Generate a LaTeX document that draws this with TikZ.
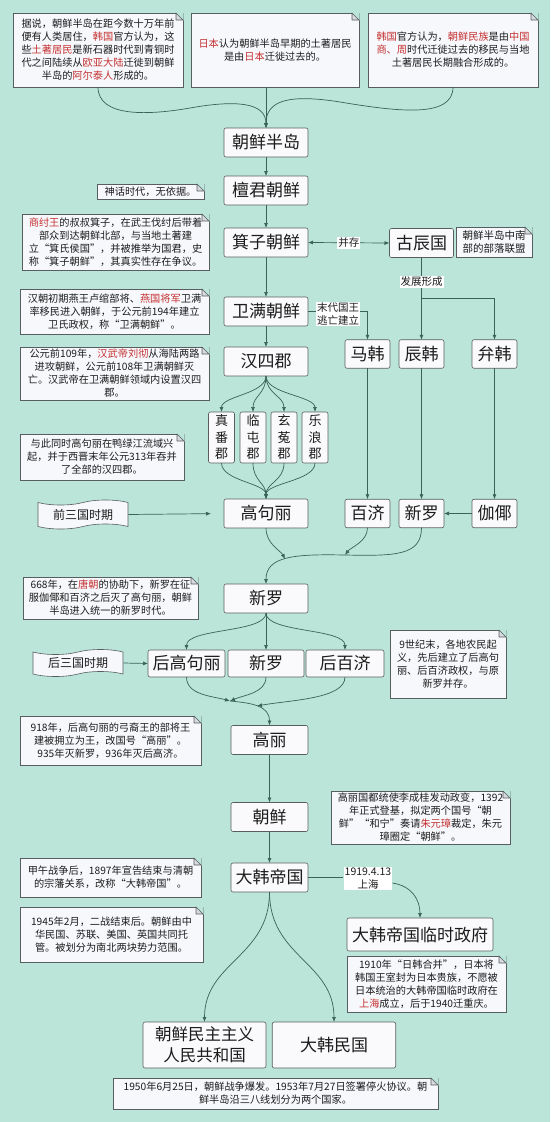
\documentclass[tikz,border=0pt]{standalone}
\usepackage{fontspec}
\setmainfont{Noto Sans CJK SC}
\usetikzlibrary{arrows.meta,shapes.symbols}
\definecolor{bgc}{RGB}{187,229,217}
\definecolor{boxc}{RGB}{250,250,252}
\definecolor{notec}{RGB}{247,248,252}
\definecolor{bordc}{RGB}{88,94,96}
\definecolor{linec}{RGB}{58,98,86}
\definecolor{redc}{RGB}{196,48,48}
\definecolor{txtc}{RGB}{28,28,28}
\definecolor{foldc}{RGB}{214,217,222}
\newcommand\rd[1]{\textcolor{redc}{#1}}
\newcommand\dogear[1]{%
  \fill[bgc] ([xshift=-7.6pt,yshift=0.7pt]#1.north east) -- ([xshift=0.7pt,yshift=0.7pt]#1.north east) -- ([xshift=0.7pt,yshift=-7.6pt]#1.north east) -- cycle;
  \filldraw[fill=foldc, draw=bordc, line width=0.6pt, line join=round] ([xshift=-7pt]#1.north east) -- ([xshift=-7pt,yshift=-7pt]#1.north east) -- ([yshift=-7pt]#1.north east) -- cycle;}
\begin{document}
\begin{tikzpicture}[x=1pt,y=-1pt,
  mbox/.style={draw=bordc, fill=boxc, rounded corners=2pt, line width=0.6pt, inner sep=0pt, outer sep=0pt, text=txtc, font=\fontsize{17}{20}\selectfont, minimum height=29pt},
  sbox/.style={mbox, minimum width=45pt, minimum height=28.5pt},
  jun/.style={mbox, minimum width=26pt, minimum height=51pt, align=center, font=\fontsize{13}{16.5}\selectfont},
  note/.style={draw=bordc, fill=notec, line width=0.6pt, inner sep=0pt, outer sep=0pt, align=center, text=txtc, font=\fontsize{10.2}{13}\selectfont},
  flagbox/.style={tape, draw=bordc, fill=notec, line width=0.6pt, minimum width=90pt, minimum height=29pt, inner sep=0pt, tape bend height=5pt, font=\fontsize{12}{14}\selectfont, text=txtc},
  lbl/.style={fill=white, inner sep=1pt, font=\fontsize{10.5}{13}\selectfont, align=center, text=txtc},
  conn/.style={draw=linec, line width=0.7pt},
  arr/.style={conn, -{Latex[length=5pt,width=4pt]}}]
\path[use as bounding box] (0,0) rectangle (550,1122);
\fill[bgc] (0,0) rectangle (550,1122);

% top notes
\node[note, minimum width=170pt, minimum height=74pt] (n1) at (98,50) {据说，朝鲜半岛在距今数十万年前\\便有人类居住，\rd{韩国}官方认为，这\\些\rd{土著居民}是新石器时代到青铜时\\代之间陆续从\rd{欧亚大陆}迁徙到朝鲜\\半岛的\rd{阿尔泰人}形成的。};
\node[note, minimum width=168pt, minimum height=74pt] (n2) at (275,50) {\rd{日本}认为朝鲜半岛早期的土著居民\\是由\rd{日本}迁徙过去的。};
\node[note, minimum width=170pt, minimum height=74pt] (n3) at (453,50) {\rd{韩国}官方认为，\rd{朝鲜民族}是由\rd{中国}\\\rd{商、周}时代迁徙过去的移民与当地\\土著居民长期融合形成的。};

% main column
\node[mbox, minimum width=84pt] (A) at (266,142.5) {朝鲜半岛};
\node[mbox, minimum width=84pt] (B) at (266,190.5) {檀君朝鲜};
\node[mbox, minimum width=84pt] (C) at (266,242.5) {箕子朝鲜};
\node[mbox, minimum width=64pt] (GC) at (421.5,243) {古辰国};
\node[note, minimum width=76pt, minimum height=30pt, font=\fontsize{10.5}{13}\selectfont] (nGC) at (494,242) {朝鲜半岛中南\\部的部落联盟};
\node[note, minimum width=107pt, minimum height=15pt] (nB) at (150.5,191.5) {神话时代，无依据。};
\node[note, minimum width=187pt, minimum height=56pt] (nC) at (115.5,242) {\rd{商纣王}的叔叔箕子，在武王伐纣后带着\\部众到达朝鲜北部，与当地土著建\\立“箕氏侯国”，并被推举为国君，史\\称“箕子朝鲜”，其真实性存在争议。};
\node[mbox, minimum width=84pt] (D) at (266,311.5) {卫满朝鲜};
\node[note, minimum width=189pt, minimum height=45pt] (nD) at (114.5,311.5) {汉朝初期燕王卢绾部将、\rd{燕国将军}卫满\\率移民进入朝鲜，于公元前194年建立\\卫氏政权，称“卫满朝鲜”。};
\node[mbox, minimum width=84pt] (E) at (266,361.5) {汉四郡};
\node[note, minimum width=189pt, minimum height=53pt] (nE) at (114.5,373.5) {公元前109年，\rd{汉武帝刘彻}从海陆两路\\进攻朝鲜，公元前108年卫满朝鲜灭\\亡。汉武帝在卫满朝鲜领域内设置汉四\\郡。};

\node[jun] (J1) at (221.5,437.5) {真\\番\\郡};
\node[jun] (J2) at (253,437.5) {临\\屯\\郡};
\node[jun] (J3) at (284,437.5) {玄\\菟\\郡};
\node[jun] (J4) at (315,437.5) {乐\\浪\\郡};

\node[note, minimum width=164pt, minimum height=46pt] (nF) at (102,457) {与此同时高句丽在鸭绿江流域兴\\起，并于西晋末年公元313年吞并\\了全部的汉四郡。};
\node[flagbox] (f1) at (83,514.5) {前三国时期};
\node[mbox, minimum width=84pt] (F) at (266,513.5) {高句丽};

\node[sbox] (MH) at (367.5,354) {马韩};
\node[sbox] (CH) at (421.5,354) {辰韩};
\node[sbox] (BH) at (494.5,354) {弁韩};
\node[sbox] (BJ) at (367.5,513.5) {百济};
\node[sbox] (XL) at (421.5,513.5) {新罗};
\node[sbox] (JY) at (494.5,513.5) {伽倻};

\node[note, minimum width=175pt, minimum height=42pt] (nG) at (110.5,598) {668年，在\rd{唐朝}的协助下，新罗在征\\服伽倻和百济之后灭了高句丽，朝鲜\\半岛进入统一的新罗时代。};
\node[mbox, minimum width=84pt] (G) at (266,598.5) {新罗};
\node[flagbox, minimum height=27pt] (f2) at (78,663) {后三国时期};
\node[mbox, minimum width=77pt, minimum height=27pt] (HG) at (186.5,663.5) {后高句丽};
\node[mbox, minimum width=76pt, minimum height=27pt] (XL2) at (266,663.5) {新罗};
\node[mbox, minimum width=78pt, minimum height=27pt] (HB) at (345,663.5) {后百济};
\node[note, minimum width=116pt, minimum height=68pt] (n9) at (448,664) {9世纪末，各地农民起\\义，先后建立了后高句\\丽、后百济政权，与原\\新罗并存。};

\node[note, minimum width=181pt, minimum height=49pt] (nH) at (110.5,740.5) {918年，后高句丽的弓裔王的部将王\\建被拥立为王，改国号“高丽”。\\935年灭新罗，936年灭后高济。};
\node[mbox, minimum width=77pt] (H) at (269.5,740) {高丽};
\node[mbox, minimum width=77pt] (I) at (269.5,817) {朝鲜};
\node[note, minimum width=179pt, minimum height=53pt] (nI) at (420.5,817.5) {高丽国都统使李成桂发动政变，1392\\年正式登基，拟定两个国号“朝\\鲜”“和宁”奏请\rd{朱元璋}裁定，朱元\\璋圈定“朝鲜”。};
\node[note, minimum width=181pt, minimum height=39pt] (nJ) at (110.5,877.5) {甲午战争后，1897年宣告结束与清朝\\的宗藩关系，改称“大韩帝国”。};
\node[mbox, minimum width=77pt] (J) at (269.5,877.5) {大韩帝国};
\node[mbox, minimum width=146pt, minimum height=33pt] (K) at (420,934.5) {大韩帝国临时政府};
\node[note, minimum width=159pt, minimum height=56pt] (nK) at (426.5,984) {1910年“日韩合并”，日本将\\韩国王室封为日本贵族，不愿被\\日本统治的大韩帝国临时政府在\\\rd{上海}成立，后于1940迁重庆。};
\node[note, minimum width=183pt, minimum height=55pt] (nL) at (111.5,934.5) {1945年2月，二战结束后。朝鲜由中\\华民国、苏联、美国、英国共同托\\管。被划分为南北两块势力范围。};
\node[mbox, minimum width=123pt, minimum height=46pt, align=center, font=\fontsize{16.5}{21}\selectfont] (L) at (204.5,1045) {朝鲜民主主义\\人民共和国};
\node[mbox, minimum width=123.5pt, minimum height=46pt] (M) at (334,1045) {大韩民国};
\node[note, minimum width=325pt, minimum height=31pt] (nM) at (275.5,1093.5) {1950年6月25日，朝鲜战争爆发。1953年7月27日签署停火协议。朝\\鲜半岛沿三八线划分为两个国家。};

\foreach \n in {n1,n2,n3,nGC,nB,nC,nD,nE,nF,nG,n9,nH,nI,nJ,nK,nL,nM} {\dogear{\n}}

% connectors
\draw[arr] (n1.south) .. controls (98,118) and (150,115) .. (190,108) .. controls (235,100) and (266,102) .. (A.north);
\draw[arr] (n3.south) .. controls (453,118) and (400,112) .. (340,102) .. controls (290,94) and (266,100) .. (A.north);
\draw[arr] (A.north |- n2.south) -- (A.north);
\draw[arr] (A.south) -- (B.north);
\draw[arr] (B.south) -- (C.north);
\draw[conn, {Latex[length=5pt,width=4pt]}-{Latex[length=5pt,width=4pt]}] (C.east) -- node[lbl] (lC) {并存} (GC.west);
\draw[arr] (C.south) -- (D.north);
\draw[arr] (D.south) -- (E.north);
\draw[arr] (D.east) -- (MH.north |- D.east) -- (MH.north);
\node[lbl] (lD) at (338,314) {末代国王\\逃亡建立};
\draw[arr] (GC.south) -- (CH.north);
\coordinate (br) at (421.5,298);
\draw[arr] (br) -| (BH.north);
\node[lbl] (lGC) at (421.5,282) {发展形成};

\foreach \j in {J1,J2,J3,J4} {
  \draw[arr] (E.south) .. controls +(0,18) and +(0,-16) .. (\j.north);
  \draw[arr] (\j.south) .. controls +(0,18) and +(0,-16) .. (F.north);
}
\draw[arr] (MH.south) -- (BJ.north);
\draw[arr] (CH.south) -- (XL.north);
\draw[arr] (BH.south) -- (JY.north);
\draw[arr] (JY.west) -- (XL.east);
\draw[arr, shorten >=13pt] (f1.east) -- (F.west);

\coordinate (m1) at (285,559);
\coordinate (m2) at (345,555);
\draw[arr] (XL.south) .. controls +(0,28) and (395,556) .. (m2) .. controls (295,554) and (266,556) .. (G.north);
\draw[arr] (F.south) .. controls +(0,16) and +(-4,-8) .. (m1);
\draw[arr] (BJ.south) .. controls +(0,14) and +(6,-8) .. (m2);

\draw[arr] (G.south) .. controls +(0,20) and +(0,-22) .. (HG.north);
\draw[arr] (G.south) -- (XL2.north);
\draw[arr] (G.south) .. controls +(0,20) and +(0,-22) .. (HB.north);
\draw[arr] (f2.east) -- (HG.west);

\coordinate (p1) at (230,701);
\coordinate (p2) at (257,706);
\draw[arr] (HG.south) .. controls +(0,18) and +(-18,-5) .. (p1);
\draw[arr] (XL2.south) .. controls +(0,16) and +(14,-6) .. (p1);
\draw[arr] (p1) .. controls (250,703) and (269.5,705) .. (H.north);
\draw[arr] (HB.south) .. controls +(0,22) and (290,700) .. (p2);

\draw[arr] (H.south) -- (I.north);
\draw[arr] (I.south) -- (J.north);
\node[lbl] (l19) at (368,878.5) {1919.4.13\\上海};
\draw[conn] (J.east) -- (l19.west |- J.east);
\draw[arr] ([yshift=-4.5pt]l19.east) .. controls (412,886) and (420,900) .. (K.north);
\draw[arr] (J.south) .. controls +(0,65) and +(0,-60) .. (L.north);
\draw[arr] (J.south) .. controls +(0,65) and +(0,-60) .. (M.north);
\end{tikzpicture}
\end{document}
